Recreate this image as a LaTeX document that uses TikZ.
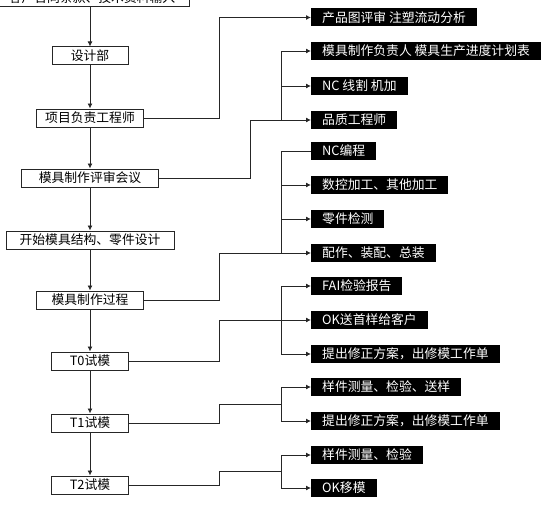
\documentclass[tikz,border=0pt]{standalone}
\usepackage{fontspec}
\newfontfamily\cjk{Noto Sans CJK SC}
\usetikzlibrary{arrows.meta,calc}

\begin{document}
\begin{tikzpicture}[x=1pt,y=-1pt,
    every node/.style={font=\cjk\fontsize{12.8}{14}\selectfont},
    stage/.style={draw=black!85, line width=1pt, fill=white, minimum height=18pt, inner ysep=0pt},
    task/.style={fill=black, text=white, anchor=west, minimum height=18pt, inner xsep=11pt, inner ysep=0pt},
    link/.style={line width=0.9pt, black!85},
    arr/.style={link, -{Latex[length=5pt,width=5pt]}}]
  \clip (0,0) rectangle (553,508);
  % main line
  \node[stage, minimum width=194pt] (input) at (92,-2) {客户合同条款、技术资料输入};
  \node[stage, minimum width=76pt] (design) at (90,56) {设计部};
  \node[stage, minimum width=107pt] (leader) at (90,118) {项目负责工程师};
  \node[stage, minimum width=137pt] (review) at (90,178) {模具制作评审会议};
  \node[stage, minimum width=168pt] (start) at (90,240) {开始模具结构、零件设计};
  \node[stage, minimum width=107pt] (making) at (90,300) {模具制作过程};
  \node[stage, minimum width=77pt] (tzero) at (90,361) {T0试模};
  \node[stage, minimum width=77pt] (tone) at (90,423) {T1试模};
  \node[stage, minimum width=77pt] (ttwo) at (90,485) {T2试模};
  \draw[arr] (input.south -| design) -- (design);
  \foreach \a/\b in {design/leader, leader/review, review/start, start/making,
      making/tzero, tzero/tone, tone/ttwo}
    \draw[arr] (\a) -- (\b);

  % tasks
  \node[task] (flow) at (311,17.5) {产品图评审 注塑流动分析};
  \node[task] (plan) at (311,51) {模具制作负责人 模具生产进度计划表};
  \node[task] (wire) at (311,86) {NC 线割 机加};
  \node[task] (qe) at (311,120) {品质工程师};
  \node[task] (ncp) at (311,151) {NC编程};
  \node[task] (cnc) at (311,185) {数控加工、其他加工};
  \node[task] (check) at (311,219) {零件检测};
  \node[task] (fit) at (311,253) {配作、装配、总装};
  \node[task] (fai) at (311,286) {FAI检验报告};
  \node[task] (okone) at (311,320) {OK送首样给客户};
  \node[task] (fixa) at (311,354) {提出修正方案，出修模工作单};
  \node[task] (samp) at (311,387) {样件测量、检验、送样};
  \node[task] (fixb) at (311,421) {提出修正方案，出修模工作单};
  \node[task] (sampb) at (311,455) {样件测量、检验};
  \node[task] (move) at (311,488) {OK移模};

  \coordinate (jl) at (219,0);
  \coordinate (jm) at (250,0);
  \coordinate (jb) at (281,0);

  \draw[arr] (leader.east) -- (leader.east -| jl) |- (flow.west);

  \draw[arr] (review.east) -- (review.east -| jm) |- (qe.west);
  \draw[arr] (qe.west -| jb) |- (plan.west);
  \draw[arr] (wire.west -| jb) -- (wire.west);

  \draw[arr] (making.east) -- (making.east -| jl) |- (fit.west);
  \draw[link] (fit.west -| jb) |- (ncp.west);
  \draw[arr] (cnc.west -| jb) -- (cnc.west);
  \draw[arr] (check.west -| jb) -- (check.west);

  \draw[arr] (tzero.east) -- (tzero.east -| jl) |- (okone.west);
  \draw[arr] (okone.west -| jb) |- (fai.west);
  \draw[arr] (okone.west -| jb) |- (fixa.west);

  \coordinate (mone) at ($(samp.west -| jb)!0.5!(fixb.west -| jb)$);
  \draw[link] (tone.east) -- (tone.east -| jl) |- (mone);
  \draw[arr] (mone) |- (samp.west);
  \draw[arr] (mone) |- (fixb.west);

  \coordinate (mtwo) at ($(sampb.west -| jb)!0.5!(move.west -| jb)$);
  \draw[link] (ttwo.east) -- (ttwo.east -| jl) |- (mtwo);
  \draw[arr] (mtwo) |- (sampb.west);
  \draw[arr] (mtwo) |- (move.west);
\end{tikzpicture}
\end{document}
